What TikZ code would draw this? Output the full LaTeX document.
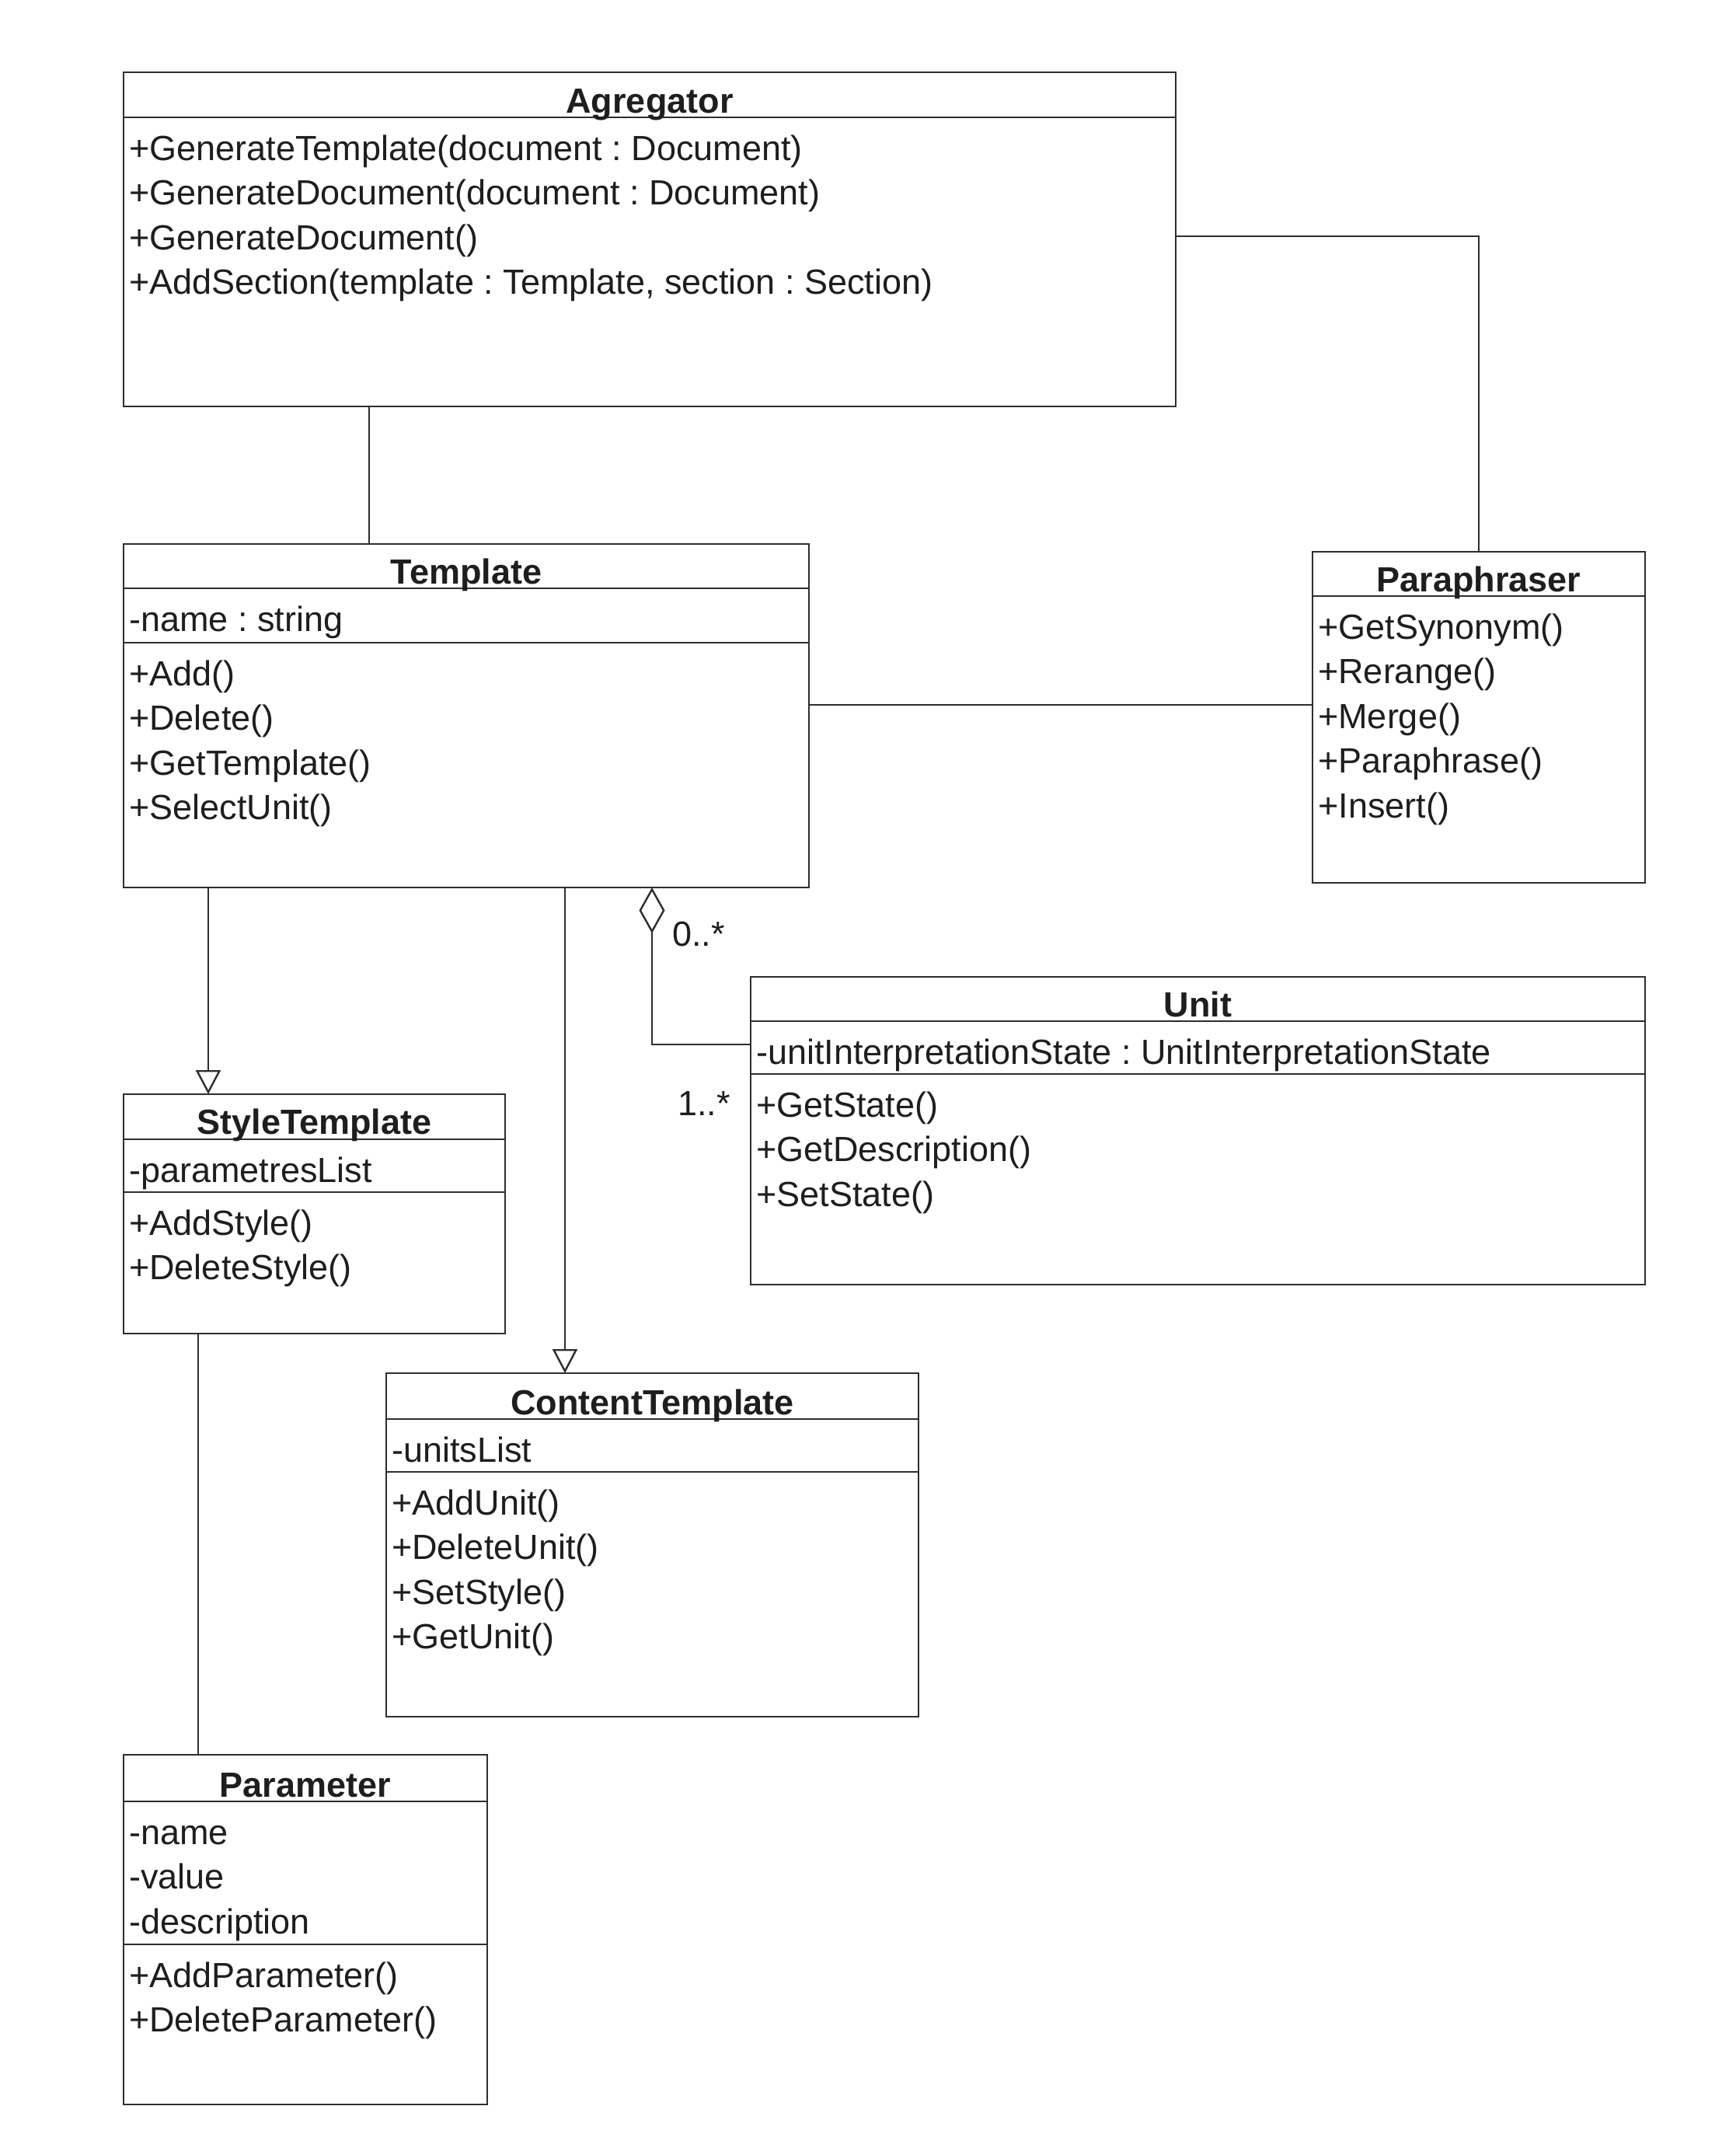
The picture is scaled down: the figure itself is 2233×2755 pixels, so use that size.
\documentclass[tikz,border=0pt]{standalone}
\usepackage{fontspec}
\setmainfont{Liberation Sans}
\usetikzlibrary{arrows.meta}
\frenchspacing
\definecolor{linec}{HTML}{2E2E2E}
\definecolor{textc}{HTML}{1E1E1E}
\tikzset{
  cls/.style={draw=linec, line width=2.4pt, rectangle, inner sep=0pt, outer sep=0pt, anchor=north west},
  sepl/.style={draw=linec, line width=2.4pt},
  txt/.style={anchor=base west, inner sep=0pt, text=textc, font=\fontsize{45}{54}\selectfont},
  ttl/.style={anchor=base, inner sep=0pt, text=textc, font=\fontsize{45}{54}\selectfont\bfseries},
  assoc/.style={draw=linec, line width=2.4pt},
  gen/.style={assoc, -{Triangle[open, length=31pt, width=32pt]}},
  aggr/.style={assoc, {Diamond[open, length=59pt, width=33pt]}-},
}
\begin{document}
\begin{tikzpicture}[x=1pt, y=-1pt]
\useasboundingbox[fill=white] (0,0) rectangle (2233,2755);

% Agregator
\node[cls, minimum width=1354pt, minimum height=430pt] (agg) at (159,93) {};
\draw[sepl] (159,151) -- (1513,151);
\node[ttl] (aggT) at (836,145) {Agregator};
\node[txt] (aggM1) at (166,206) {+GenerateTemplate(document : Document)};
\node[txt] (aggM2) at (166,263.5) {+GenerateDocument(document : Document)};
\node[txt] (aggM3) at (166,321) {+GenerateDocument()};
\node[txt] (aggM4) at (166,378.5) {+AddSection(template : Template, section : Section)};

% Template
\node[cls, minimum width=882pt, minimum height=442pt] (tmpl) at (159,700) {};
\draw[sepl] (159,757) -- (1041,757);
\draw[sepl] (159,827) -- (1041,827);
\node[ttl] (tmplT) at (600,751) {Template};
\node[txt] (tmplA1) at (166,812) {-name : string};
\node[txt] (tmplM1) at (166,882) {+Add()};
\node[txt] (tmplM2) at (166,939.5) {+Delete()};
\node[txt] (tmplM3) at (166,997) {+GetTemplate()};
\node[txt] (tmplM4) at (166,1054.5) {+SelectUnit()};

% Paraphraser
\node[cls, minimum width=428pt, minimum height=426pt] (para) at (1689,710) {};
\draw[sepl] (1689,767) -- (2117,767);
\node[ttl] (paraT) at (1903,761) {Paraphraser};
\node[txt] (paraM1) at (1696,822) {+GetSynonym()};
\node[txt] (paraM2) at (1696,879.5) {+Rerange()};
\node[txt] (paraM3) at (1696,937) {+Merge()};
\node[txt] (paraM4) at (1696,994.5) {+Paraphrase()};
\node[txt] (paraM5) at (1696,1052) {+Insert()};

% Unit
\node[cls, minimum width=1151pt, minimum height=396pt] (unit) at (966,1257) {};
\draw[sepl] (966,1314) -- (2117,1314);
\draw[sepl] (966,1382) -- (2117,1382);
\node[ttl] (unitT) at (1541.5,1308) {Unit};
\node[txt] (unitA1) at (973,1369) {-unitInterpretationState : UnitInterpretationState};
\node[txt] (unitM1) at (973,1437) {+GetState()};
\node[txt] (unitM2) at (973,1494.5) {+GetDescription()};
\node[txt] (unitM3) at (973,1552) {+SetState()};

% StyleTemplate
\node[cls, minimum width=491pt, minimum height=308pt] (style) at (159,1408) {};
\draw[sepl] (159,1466) -- (650,1466);
\draw[sepl] (159,1534) -- (650,1534);
\node[ttl] (styleT) at (404.5,1459) {StyleTemplate};
\node[txt] (styleA1) at (166,1521) {-parametresList};
\node[txt] (styleM1) at (166,1589) {+AddStyle()};
\node[txt] (styleM2) at (166,1646.5) {+DeleteStyle()};

% ContentTemplate
\node[cls, minimum width=685pt, minimum height=442pt] (content) at (497,1767) {};
\draw[sepl] (497,1826) -- (1182,1826);
\draw[sepl] (497,1894) -- (1182,1894);
\node[ttl] (contentT) at (839.5,1820) {ContentTemplate};
\node[txt] (contentA1) at (504,1881) {-unitsList};
\node[txt] (contentM1) at (504,1949) {+AddUnit()};
\node[txt] (contentM2) at (504,2006.5) {+DeleteUnit()};
\node[txt] (contentM3) at (504,2064) {+SetStyle()};
\node[txt] (contentM4) at (504,2121.5) {+GetUnit()};

% Parameter
\node[cls, minimum width=468pt, minimum height=450pt] (param) at (159,2258) {};
\draw[sepl] (159,2318) -- (627,2318);
\draw[sepl] (159,2502) -- (627,2502);
\node[ttl] (paramT) at (393,2312) {Parameter};
\node[txt] (paramA1) at (166,2373) {-name};
\node[txt] (paramA2) at (166,2430.5) {-value};
\node[txt] (paramA3) at (166,2488) {-description};
\node[txt] (paramM1) at (166,2557) {+AddParameter()};
\node[txt] (paramM2) at (166,2614.5) {+DeleteParameter()};

% helper coordinates for connector positions
\coordinate (xAT) at (475,0);
\coordinate (yAP) at (0,304);
\coordinate (yTP) at (0,907);
\coordinate (xTS) at (268,0);
\coordinate (xTC) at (727,0);
\coordinate (xTU) at (839,0);
\coordinate (yTU) at (0,1344);
\coordinate (xSP) at (255,0);

% connectors
\draw[assoc] (agg.south -| xAT) -- (tmpl.north -| xAT);
\draw[assoc] (agg.east |- yAP) -| (para.north);
\draw[assoc] (tmpl.east |- yTP) -- (para.west |- yTP);
\draw[gen] (tmpl.south -| xTS) -- (style.north -| xTS);
\draw[gen] (tmpl.south -| xTC) -- (content.north -| xTC);
\draw[aggr] (tmpl.south -| xTU) |- (unit.west |- yTU);
\draw[assoc] (style.south -| xSP) -- (param.north -| xSP);

% multiplicities
\node[txt] (mult0) at (865,1217) {0..*};
\node[txt, anchor=base east] (mult1) at (940,1435) {1..*};
\end{tikzpicture}
\end{document}
